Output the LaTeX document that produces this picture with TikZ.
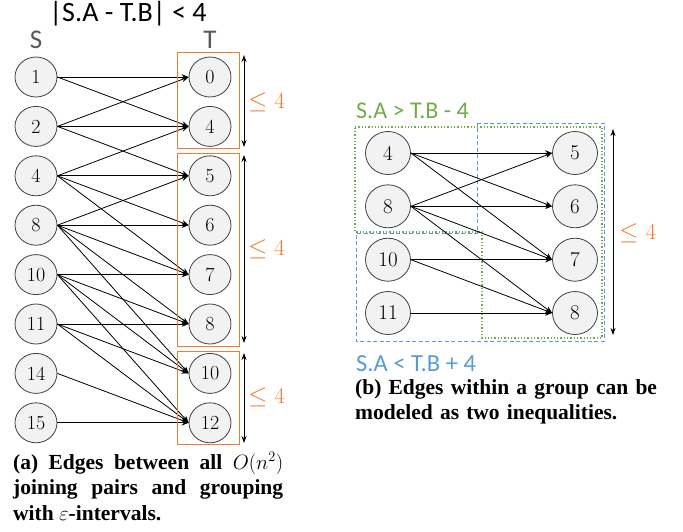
\documentclass[tikz,border=0pt]{standalone}
\usepackage{fontspec}
\usetikzlibrary{shapes.geometric,arrows.meta}
\newfontfamily\labfont{Carlito}
\newfontfamily\capfont{Liberation Serif}
\definecolor{orng}{HTML}{ED7D31}
\definecolor{grn}{HTML}{70AD47}
\definecolor{blu}{HTML}{5B9BD5}
\definecolor{gtext}{HTML}{595959}
\definecolor{nfill}{HTML}{F2F2F2}
\definecolor{nline}{HTML}{404040}
\tikzset{
  lnode/.style={ellipse, draw=nline, fill=nfill, line width=0.8pt, minimum width=42pt, minimum height=40pt, inner sep=0pt, font=\fontsize{20}{20}\selectfont},
  rnode/.style={ellipse, draw=nline, fill=nfill, line width=0.8pt, minimum width=45pt, minimum height=43pt, inner sep=0pt, font=\fontsize{21}{21}\selectfont},
  edge/.style={line width=0.8pt, -{Stealth[length=7pt,width=5.5pt]}},
  span/.style={line width=0.9pt, {Stealth[length=7pt,width=5pt]}-{Stealth[length=7pt,width=5pt]}},
  grp/.style={draw=orng, line width=0.9pt},
  le/.style={text=orng, font=\fontsize{23}{23}\selectfont, inner sep=0pt},
  capt/.style={inner sep=0pt, font=\capfont\bfseries\fontsize{21.5}{25.5}\selectfont},
}
\begin{document}
\begin{tikzpicture}[x=1pt,y=-1pt]
\useasboundingbox (0,0) rectangle (683,531);

% ---------- left diagram ----------
\node[font=\labfont\fontsize{28}{28}\selectfont, inner sep=0pt] (title) at (128,14) {|S.A - T.B| < 4};
\node[font=\labfont\fontsize{27}{27}\selectfont, text=gtext, inner sep=0pt] (slab) at (36,40) {S};
\node[font=\labfont\fontsize{27}{27}\selectfont, text=gtext, inner sep=0pt] (tlab) at (210,40) {T};

\foreach \n/\y in {1/77,2/126.4,4/175.8,8/225.2,10/274.6,11/324,14/373.4,15/422.8}
  \node[lnode] (s\n) at (36,\y) {\n};
\foreach \n/\y in {0/77,4/126.4,5/175.8,6/225.2,7/274.6,8/324,10/373.4,12/422.8}
  \node[lnode] (t\n) at (210,\y) {\n};

\foreach \a/\b in {1/0,1/4,2/0,2/4,2/5,4/4,4/5,4/6,4/7,8/5,8/6,8/7,8/8,8/10,10/7,10/8,10/10,10/12,11/8,11/10,11/12,14/12,15/12}
  \draw[edge] (s\a.east) -- (t\b.west);

\draw[grp] (177,52) rectangle (239,148);
\draw[grp] (177,153) rectangle (239,346);
\draw[grp] (177,351) rectangle (239,444);

\coordinate (a1t) at (244,55); \coordinate (a1b) at (244,147);
\coordinate (a2t) at (244,155); \coordinate (a2b) at (244,343);
\coordinate (a3t) at (244,353); \coordinate (a3b) at (244,443);
\draw[span] (a1t) -- (a1b);
\draw[span] (a2t) -- (a2b);
\draw[span] (a3t) -- (a3b);
\node[le, anchor=west] (le1) at (248,102) {$\leq$ 4};
\node[le, anchor=west] (le2) at (248,249) {$\leq$ 4};
\node[le, anchor=west] (le3) at (248,397) {$\leq$ 4};

\node[capt, anchor=north west, text width=270pt, align=justify] (capa) at (13,452)
  {(a) Edges between all $O(n^2)$\linebreak joining pairs and grouping\linebreak with $\varepsilon$-intervals.};

% ---------- right diagram ----------
\draw[grn, line width=1.3pt, dotted] (355,127) -- (602,127) -- (602,338) -- (482,338) -- (482,232) -- (355,232) -- cycle;
\draw[blu, line width=0.9pt, dash pattern=on 4pt off 2.5pt] (477,123) -- (604,123) -- (604,341) -- (356,341) -- (356,233) -- (477,233) -- cycle;

\foreach \n/\y in {4/153,8/206.3,10/259.7,11/313}
  \node[rnode] (rs\n) at (388,\y) {\n};
\foreach \n/\y in {5/153,6/206.3,7/259.7,8/313}
  \node[rnode] (rt\n) at (575,\y) {\n};

\foreach \a/\b in {4/5,4/6,4/7,8/5,8/6,8/7,8/8,10/7,10/8,11/8}
  \draw[edge] (rs\a.east) -- (rt\b.west);

\coordinate (rat) at (613,129); \coordinate (rab) at (613,335);
\draw[span] (rat) -- (rab);
\node[le, anchor=west] (rle) at (619,233) {$\leq$ 4};

\node[anchor=base west, inner sep=0pt, text=grn, font=\labfont\fontsize{24}{24}\selectfont] (glab) at (356,118) {S.A > T.B - 4};
\node[anchor=base west, inner sep=0pt, text=blu, font=\labfont\fontsize{24.5}{24.5}\selectfont] (blab) at (356,371) {S.A < T.B + 4};

\node[capt, anchor=north west, text width=320pt, align=left] (capb) at (355,379)
  {(b) Edges within a group can be\\ modeled as two inequalities.};
\end{tikzpicture}
\end{document}
